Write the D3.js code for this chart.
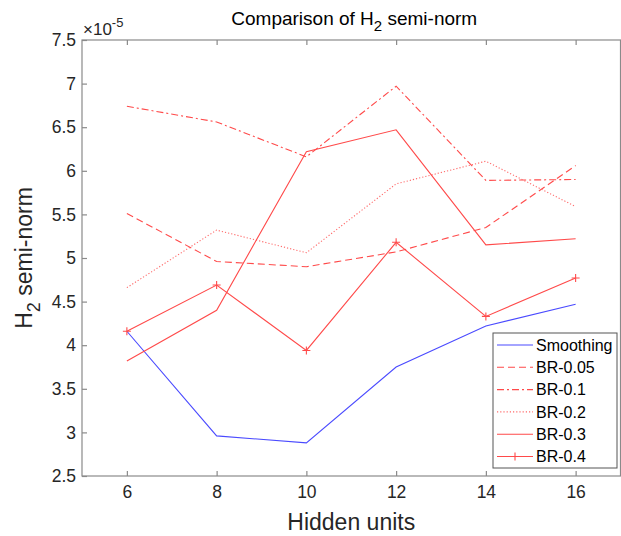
<!DOCTYPE html>
<html><head><meta charset="utf-8">
<script src="https://cdn.jsdelivr.net/npm/d3@7"></script>
<style>body{margin:0;background:#fff;} svg{display:block;} text{font-family:"Liberation Sans",Arial,sans-serif;}</style>
</head><body>
<svg id="c" width="621" height="536"></svg>
<script>
const hiddenUnits = [6, 8, 10, 12, 14, 16];
const smoothing = [4.16, 2.96, 2.88, 3.75, 4.22, 4.47];
const br005 = [5.51, 4.96, 4.90, 5.07, 5.35, 6.06];
const br01  = [6.74, 6.56, 6.16, 6.97, 5.89, 5.90];
const br02  = [4.66, 5.32, 5.06, 5.85, 6.11, 5.59];
const br03  = [3.82, 4.40, 6.22, 6.47, 5.15, 5.22];
const br04  = [4.16, 4.69, 3.94, 5.18, 4.33, 4.77];
const xTicks = [6, 8, 10, 12, 14, 16];
const yTicks = [2.5, 3, 3.5, 4, 4.5, 5, 5.5, 6, 6.5, 7, 7.5];
const seriesNames = ["Smoothing", "BR-0.05", "BR-0.1", "BR-0.2", "BR-0.3", "BR-0.4"];

const series = [
  {name: seriesNames[0], values: smoothing, color: "#4a4aff", dash: null, marker: false},
  {name: seriesNames[1], values: br005, color: "#ff4a4a", dash: "7,4", marker: false},
  {name: seriesNames[2], values: br01, color: "#ff4a4a", dash: "7,3,2,3", marker: false},
  {name: seriesNames[3], values: br02, color: "#ff6a6a", dash: "1.2,2", marker: false},
  {name: seriesNames[4], values: br03, color: "#ff4a4a", dash: null, marker: false},
  {name: seriesNames[5], values: br04, color: "#ff4a4a", dash: null, marker: true}
];

const svg = d3.select("#c");
const L = 82, R = 620.5, T = 40, B = 476;
const x = d3.scaleLinear().domain([5, 17]).range([L, R]);
const y = d3.scaleLinear().domain([2.5, 7.5]).range([B, T]);
const axisColor = "#8a8a8a", textColor = "#262626";

svg.append("rect").attr("x", L).attr("y", T).attr("width", R - L).attr("height", B - T)
  .attr("fill", "none").attr("stroke", axisColor).attr("stroke-width", 1.2);

const xb = svg.append("g").attr("transform", `translate(0,${B})`)
  .call(d3.axisBottom(x).tickValues(xTicks).tickSizeInner(-5).tickSizeOuter(0).tickPadding(10));
const xt = svg.append("g").attr("transform", `translate(0,${T})`)
  .call(d3.axisTop(x).tickValues(xTicks).tickSizeInner(-5).tickSizeOuter(0).tickFormat(""));
const yl = svg.append("g").attr("transform", `translate(${L},0)`)
  .call(d3.axisLeft(y).tickValues(yTicks).tickSizeInner(-5).tickSizeOuter(0).tickPadding(6).tickFormat(d3.format("")));
[xb, xt, yl].forEach(g => {
  g.select(".domain").remove();
  g.selectAll(".tick line").attr("stroke", axisColor).attr("stroke-width", 1.2);
  g.selectAll(".tick text").attr("fill", textColor).style("font-size", "17.5px")
    .style("font-family", '"Liberation Sans",Arial,sans-serif');
});

const line = d3.line().x((d, i) => x(hiddenUnits[i])).y(d => y(d));
series.forEach(s => {
  svg.append("path").datum(s.values).attr("d", line).attr("fill", "none")
    .attr("stroke", s.color).attr("stroke-width", 1.1)
    .attr("stroke-dasharray", s.dash);
  if (s.marker) {
    svg.selectAll(null).data(s.values).enter().append("path")
      .attr("d", "M-4,0H4M0,-4V4")
      .attr("transform", (d, i) => `translate(${x(hiddenUnits[i])},${y(d)})`)
      .attr("stroke", s.color).attr("stroke-width", 1.1);
  }
});

const ex = svg.append("text").attr("x", L + 1).attr("y", 35).attr("fill", textColor).style("font-size", "17px");
ex.append("tspan").text("×10");
ex.append("tspan").attr("dy", -8).style("font-size", "13px").text("-5");

const title = svg.append("text").attr("x", (L + R) / 2 + 3).attr("y", 25).attr("text-anchor", "middle")
  .attr("fill", "#000").style("font-size", "19px");
title.append("tspan").text("Comparison of H");
title.append("tspan").attr("dy", 6).style("font-size", "15px").text("2");
title.append("tspan").attr("dy", -6).text(" semi-norm");

svg.append("text").attr("x", (L + R) / 2).attr("y", 530).attr("text-anchor", "middle")
  .attr("fill", textColor).style("font-size", "23px").text("Hidden units");

const ylab = svg.append("text").attr("transform", `translate(32,${(T + B) / 2}) rotate(-90)`)
  .attr("text-anchor", "middle").attr("fill", textColor).style("font-size", "23px");
ylab.append("tspan").text("H");
ylab.append("tspan").attr("dy", 8).style("font-size", "18px").text("2");
ylab.append("tspan").attr("dy", -8).text(" semi-norm");

const lg = svg.append("g");
const lx = 493, ly = 333, lw = 124, lh = 135;
lg.append("rect").attr("x", lx).attr("y", ly).attr("width", lw).attr("height", lh)
  .attr("fill", "#fff").attr("stroke", "#555").attr("stroke-width", 1);
series.forEach((s, i) => {
  const cy = ly + 12 + i * 22.3;
  lg.append("line").attr("x1", lx + 4).attr("x2", lx + 40).attr("y1", cy).attr("y2", cy)
    .attr("stroke", s.color).attr("stroke-width", 1.1).attr("stroke-dasharray", s.dash);
  if (s.marker) {
    lg.append("path").attr("d", "M-4,0H4M0,-4V4")
      .attr("transform", `translate(${lx + 22},${cy})`).attr("stroke", s.color).attr("stroke-width", 1.1);
  }
  lg.append("text").attr("x", lx + 43).attr("y", cy).attr("dy", "0.36em")
    .attr("fill", "#000").style("font-size", "16px").text(s.name);
});
</script>
</body></html>
